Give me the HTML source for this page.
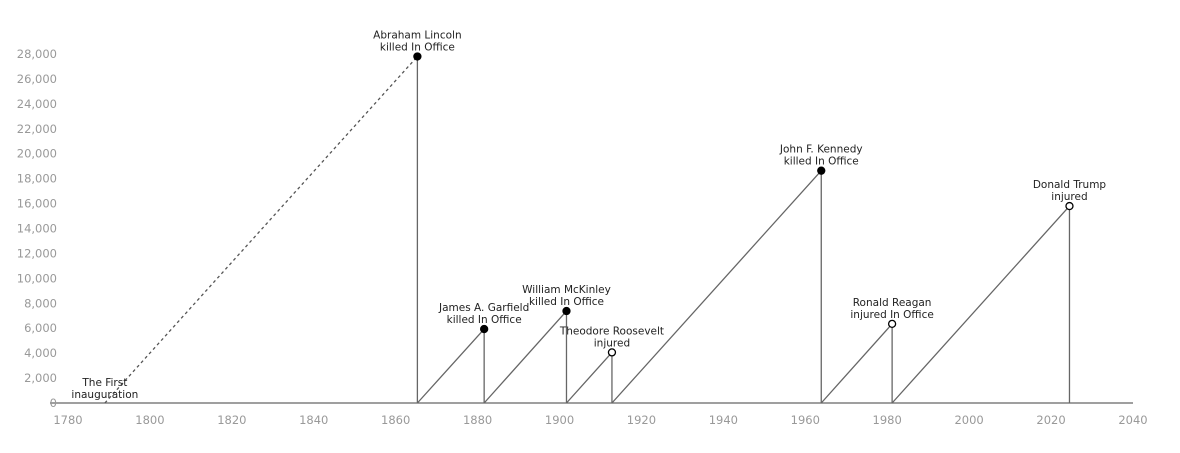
<!DOCTYPE html>
<html><head><meta charset="utf-8"><style>
body{margin:0;background:#fff;}
svg{display:block;font-family:"DejaVu Sans","Liberation Sans",sans-serif;}
.tick{fill:#999;font-size:11.5px;}
.lab{fill:#222;font-size:10.5px;}
</style></head><body>
<svg id="c" width="1180" height="453"></svg>
<script>
const years=[1865.3,1881.6,1901.7,1912.8,1963.9,1981.2,2024.5];
const values=[27800,5930,7380,4060,18640,6350,15800];
const labels1=["Abraham Lincoln","James A. Garfield","William McKinley","Theodore Roosevelt","John F. Kennedy","Ronald Reagan","Donald Trump"];
const labels2=["killed In Office","killed In Office","killed In Office","injured","killed In Office","injured In Office","injured"];
const killed=[true,true,true,false,true,false,false];
const startYear=1789;
const xTicks=[1780,1800,1820,1840,1860,1880,1900,1920,1940,1960,1980,2000,2020,2040];
const yTicks=[0,2000,4000,6000,8000,10000,12000,14000,16000,18000,20000,22000,24000,26000,28000];
const NS="http://www.w3.org/2000/svg";
const svg=document.getElementById('c');
const X=y=>68+(y-1780)*4.096;
const Y=v=>403-v*(349/28000);
function el(t,a){const e=document.createElementNS(NS,t);for(const k in a)e.setAttribute(k,a[k]);svg.appendChild(e);return e;}
let ax=el('line',{x1:50,y1:403,x2:1133,y2:403,stroke:'#666','stroke-width':1.3});


xTicks.forEach(t=>{const e=el('text',{x:X(t),y:424,'text-anchor':'middle',class:'tick'});e.textContent=t;

});
yTicks.forEach(t=>{const e=el('text',{x:57,y:Y(t)+4,'text-anchor':'end',class:'tick'});e.textContent=t.toLocaleString('en-US');

});
let d=el('line',{x1:X(startYear),y1:Y(0),x2:X(years[0]),y2:Y(values[0]),stroke:'#555','stroke-width':1.3,'stroke-dasharray':'3,3'});


let s=el('text',{x:X(startYear),y:386,'text-anchor':'middle',class:'lab'});s.textContent='The First';


s=el('text',{x:X(startYear),y:398,'text-anchor':'middle',class:'lab'});s.textContent='inauguration';


years.forEach((yr,i)=>{
  if(i>0){const l=el('line',{x1:X(years[i-1]),y1:Y(0),x2:X(yr),y2:Y(values[i]),stroke:'#666','stroke-width':1.3});
  
  }
  const v=el('line',{x1:X(yr),y1:Y(values[i]),x2:X(yr),y2:Y(0),stroke:'#666','stroke-width':1.3});
  
  
  const c=el('circle',{cx:X(yr),cy:Y(values[i]),r:3.5,fill:killed[i]?'#000':'#fff',stroke:'#000','stroke-width':1.3});
  
  
  const t1=el('text',{x:X(yr),y:Y(values[i])-18,'text-anchor':'middle',class:'lab'});t1.textContent=labels1[i];
  
  
  const t2=el('text',{x:X(yr),y:Y(values[i])-6,'text-anchor':'middle',class:'lab'});t2.textContent=labels2[i];
  
  
});
</script>
</body></html>
